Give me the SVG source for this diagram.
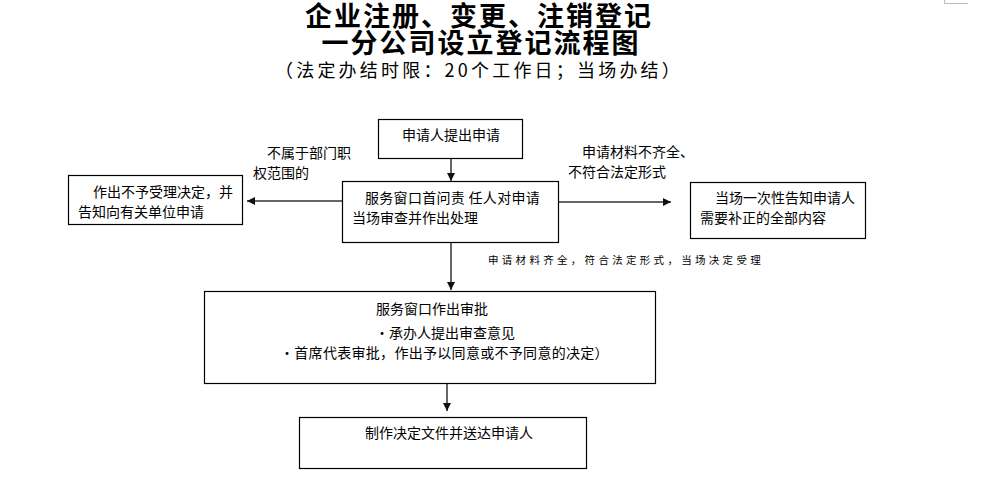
<svg xmlns="http://www.w3.org/2000/svg" width="996" height="484" viewBox="0 0 996 484">
<style>
.box{fill:#fff;stroke:#000;stroke-width:1.2}
.t{font-family:"Noto Sans CJK SC","Noto Sans CJK TC",sans-serif;font-size:14px;fill:#000}
.title{font-family:"Noto Sans CJK SC",sans-serif;font-weight:bold;font-size:27px;fill:#000;text-anchor:middle;letter-spacing:2px}
.sub{font-family:"Noto Sans CJK SC",sans-serif;font-size:18px;fill:#000;text-anchor:middle;letter-spacing:3.2px}
.small{font-family:"Noto Sans CJK SC",sans-serif;font-size:10.5px;fill:#000;letter-spacing:3.3px}
.c{stroke:#333;stroke-width:1.5;fill:none;marker-end:url(#ah)}
</style>
<defs>
<marker id="ah" markerUnits="userSpaceOnUse" markerWidth="9" markerHeight="8" refX="8" refY="4" orient="auto">
<path d="M0,0 L8,4 L0,8 z" fill="#111"/>
</marker>
</defs>
<rect width="996" height="484" fill="#fff"/>
<path d="M944.5,0 V3.5 H968" stroke="#bbb" stroke-width="1" fill="none"/>
<g id="title">
<text class="title" x="479" y="26">企业注册、变更、注销登记</text>
<text class="title" x="481" y="53">一分公司设立登记流程图</text>
<text class="sub" x="479" y="77">（法定办结时限：20个工作日；当场办结）</text>
</g>
<g id="connectors">
<line class="c" x1="451" y1="159" x2="451" y2="181"/>
<line class="c" x1="342" y1="201" x2="247" y2="201"/>
<line class="c" x1="559" y1="202" x2="671" y2="202"/>
<line class="c" x1="451" y1="243" x2="451" y2="290"/>
<line class="c" x1="447" y1="384" x2="447" y2="411"/>
<text class="t" x="267" y="158">不属于部门职</text>
<text class="t" x="253" y="178">权范围的</text>
<text class="t" x="582" y="157">申请材料不齐全、</text>
<text class="t" x="568" y="177">不符合法定形式</text>
<text class="small" x="488" y="264">申请材料齐全，符合法定形式，当场决定受理</text>
</g>
<g id="n_apply">
<rect class="box" x="378.5" y="119.5" width="144" height="39"/>
<text class="t" x="451" y="140" text-anchor="middle">申请人提出申请</text>
</g>
<g id="n_review">
<rect class="box" x="342.5" y="181.5" width="216" height="61"/>
<text class="t" x="365" y="203" letter-spacing="0.3">服务窗口首问责 任人对申请</text>
<text class="t" x="352" y="223">当场审查并作出处理</text>
</g>
<g id="n_reject">
<rect class="box" x="68.5" y="175.5" width="174" height="49"/>
<text class="t" x="93" y="197">作出不予受理决定，并</text>
<text class="t" x="78" y="217">告知向有关单位申请</text>
</g>
<g id="n_notify">
<rect class="box" x="690.5" y="182.5" width="175" height="56"/>
<text class="t" x="715" y="203">当场一次性告知申请人</text>
<text class="t" x="700" y="223">需要补正的全部内容</text>
</g>
<g id="n_approve">
<rect class="box" x="204.5" y="291.5" width="451" height="92"/>
<text class="t" x="432" y="314" text-anchor="middle">服务窗口作出审批</text>
<text class="t" x="375" y="338">·承办人提出审查意见</text>
<text class="t" x="280" y="358" letter-spacing="0.3">·首席代表审批，作出予以同意或不予同意的决定）</text>
</g>
<g id="n_deliver">
<rect class="box" x="299.5" y="417.5" width="287" height="51"/>
<text class="t" x="365" y="438">制作决定文件并送达申请人</text>
</g>
</svg>
